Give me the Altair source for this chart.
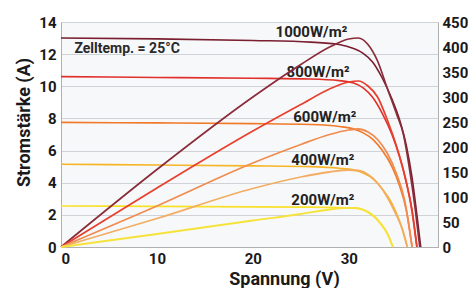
import altair as alt
import pandas as pd

FONT = "Roboto"

series = ["1000", "800", "600", "400", "200"]
colors_cur = ["#7a1f30", "#e1302a", "#f07a2a", "#f6b524", "#f7e12a"]
colors_pow = ["#8a2c3a", "#e8402e", "#f08c50", "#f2ad62", "#f6e33a"]
widths = [1.6, 1.8, 2.0, 2.4, 3.2]

# I-V curves (Volt, Ampere)
cur_v = {
    "1000": [0, 10, 20, 26, 29, 30.5, 31.5, 32.5, 33.5, 34.5, 35.3, 36, 36.6, 37.1, 37.5],
    "800": [0, 10, 20, 26, 29, 30.5, 31.5, 32.5, 33.5, 34.5, 35.3, 36, 36.6, 37.1],
    "600": [0, 10, 20, 26, 29, 30.5, 31.5, 32.5, 33.5, 34.5, 35.3, 36, 36.6],
    "400": [0, 10, 20, 26, 29, 30.5, 31.5, 32.5, 33.5, 34.5, 35.3, 36.1],
    "200": [0, 10, 20, 26, 29, 30.7, 31.5, 32.5, 33.3, 34, 34.6],
}
cur_i = {
    "1000": [13.0, 12.95, 12.85, 12.75, 12.6, 12.35, 12.05, 11.5, 10.5, 9.2, 7.9, 6.3, 4.3, 2.0, 0],
    "800": [10.6, 10.55, 10.5, 10.45, 10.35, 10.2, 9.9, 9.3, 8.3, 7.0, 5.6, 4.0, 2.3, 0],
    "600": [7.75, 7.72, 7.68, 7.62, 7.5, 7.35, 7.1, 6.7, 6.0, 5.0, 3.8, 2.3, 0],
    "400": [5.15, 5.1, 5.05, 5.0, 4.9, 4.8, 4.6, 4.25, 3.6, 2.7, 1.6, 0],
    "200": [2.55, 2.53, 2.5, 2.48, 2.45, 2.42, 2.3, 1.95, 1.45, 0.85, 0],
}

# P-V curves (Volt, Watt)
pow_v = {
    "1000": [0, 10, 20, 25, 28, 30, 31, 32, 33, 34, 35, 35.7, 36.3, 36.9, 37.4],
    "800": [0, 10, 20, 25, 28, 30, 31, 32, 33, 34, 35, 36, 36.6, 37.1],
    "600": [0, 10, 20, 25, 28, 30, 31, 32, 33, 34, 35, 35.8, 36.6],
    "400": [0, 10, 20, 25, 28, 30, 31, 32, 33, 34, 35, 35.6, 36.1],
    "200": [0, 10, 20, 25, 28, 29.5, 30.7, 31.5, 32.5, 33.3, 34, 34.6],
}
pow_p = {
    "1000": [0, 155, 300, 365, 400, 416, 418, 405, 372, 318, 265, 225, 160, 80, 0],
    "800": [0, 118, 232, 285, 316, 330, 332, 322, 300, 255, 200, 130, 70, 0],
    "600": [0, 82, 168, 205, 225, 234, 236, 230, 215, 188, 145, 95, 0],
    "400": [0, 57, 117, 140, 150, 154, 153, 145, 128, 100, 62, 35, 0],
    "200": [0, 26, 53, 66, 75, 78, 78, 75, 64, 48, 28, 0],
}

label_text = ["1000W/m²", "800W/m²", "600W/m²", "400W/m²", "200W/m²"]
label_v = [26.1, 26.8, 27.5, 27.3, 27.3]
label_i = [13.4, 10.9, 8.1, 5.4, 2.9]

note_text = ["Zelltemp. = 25°C"]
note_v = [1.4]
note_i = [12.3]

cur_ticks = [0, 2, 4, 6, 8, 10, 12, 14]
pow_ticks = [0, 50, 100, 150, 200, 250, 300, 350, 400, 450]
volt_ticks = [0, 10, 20, 30]

cur_rows = []
for s in series:
    for k, (v, i) in enumerate(zip(cur_v[s], cur_i[s])):
        cur_rows.append({"V": v, "I": i, "s": s, "o": k})
pow_rows = []
for s in series:
    for k, (v, p) in enumerate(zip(pow_v[s], pow_p[s])):
        pow_rows.append({"V": v, "P": p, "s": s + "p", "o": k})
cur_df = pd.DataFrame(cur_rows)
pow_df = pd.DataFrame(pow_rows)
lab_df = pd.DataFrame({"t": label_text, "V": label_v, "I": label_i})
note_df = pd.DataFrame({"t": note_text, "V": note_v, "I": note_i})

xscale = alt.Scale(domain=[0, 39.3], nice=False)
xaxis = alt.Axis(values=volt_ticks, title="Spannung (V)", grid=False, ticks=False,
                 labelFontSize=15, labelFont=FONT, labelFontWeight="bold", labelColor="#1a1a1a",
                 labelPadding=4, domainColor="#b0b0b0", labelOverlap=False,
                 titleFont=FONT, titleFontSize=18, titleFontWeight="bold", titleColor="#1a1a1a",
                 titleX=223, titleY=37, titleBaseline="alphabetic")
cur_scale = alt.Scale(domain=[0, 14], nice=False)
cur_axis = alt.Axis(values=cur_ticks, tickCount=8, title="Stromstärke (A)", grid=True,
                    gridColor="#cfd2d6", gridWidth=1, ticks=False, labelOverlap=False,
                    labelFontSize=15, labelFont=FONT, labelFontWeight="bold", labelColor="#1a1a1a",
                    labelPadding=5, domainColor="#b0b0b0",
                    titleFont=FONT, titleFontSize=18, titleFontWeight="bold", titleColor="#1a1a1a",
                    titleX=-37, titleY=100, titleAngle=270, titleAlign="center", titleBaseline="middle")
pow_scale = alt.Scale(domain=[0, 450], nice=False)
pow_axis = alt.Axis(values=pow_ticks, title=None, grid=False, ticks=False,
                    orient="right", labelFontSize=15, labelFont=FONT, labelFontWeight="bold",
                    labelColor="#1a1a1a", labelPadding=4, domainColor="#b0b0b0", labelOverlap=False)

color_scale = alt.Scale(domain=series + [s + "p" for s in series], range=colors_cur + colors_pow)
width_scale = alt.Scale(domain=series + [s + "p" for s in series], range=widths + widths)

cur_lines = alt.Chart(cur_df).mark_line(interpolate="monotone").encode(
    x=alt.X("V:Q", scale=xscale, axis=xaxis),
    y=alt.Y("I:Q", scale=cur_scale, axis=cur_axis),
    color=alt.Color("s:N", scale=color_scale, legend=None),
    strokeWidth=alt.StrokeWidth("s:N", scale=width_scale, legend=None),
    order="o:Q",
)
labels = alt.Chart(lab_df).mark_text(font=FONT, fontSize=15, fontWeight="bold", color="#222222",
                                     align="center", baseline="middle").encode(
    x=alt.X("V:Q", scale=xscale, axis=xaxis),
    y=alt.Y("I:Q", scale=cur_scale, axis=cur_axis),
    text="t:N",
)
note = alt.Chart(note_df).mark_text(font=FONT, fontSize=14, fontWeight="bold", color="#2a2a2a",
                                    align="left", baseline="middle").encode(
    x=alt.X("V:Q", scale=xscale, axis=xaxis),
    y=alt.Y("I:Q", scale=cur_scale, axis=cur_axis),
    text="t:N",
)
pow_lines = alt.Chart(pow_df).mark_line(interpolate="monotone").encode(
    x=alt.X("V:Q", scale=xscale, axis=xaxis),
    y=alt.Y("P:Q", scale=pow_scale, axis=pow_axis),
    color=alt.Color("s:N", scale=color_scale, legend=None),
    strokeWidth=alt.StrokeWidth("s:N", scale=width_scale, legend=None),
    order="o:Q",
)

chart = alt.layer(alt.layer(cur_lines, labels, note), pow_lines).resolve_scale(
    y="independent"
).properties(
    width=377, height=225,
    autosize=alt.AutoSizeParams(type="none"),
    padding={"left": 53, "top": 14, "right": 30, "bottom": 41},
    background="white",
).configure_view(fill="#f7f8fa", stroke="#c4c4c4", strokeWidth=1)

chart.save("out.html", embed_options={"renderer": "svg", "actions": False})
